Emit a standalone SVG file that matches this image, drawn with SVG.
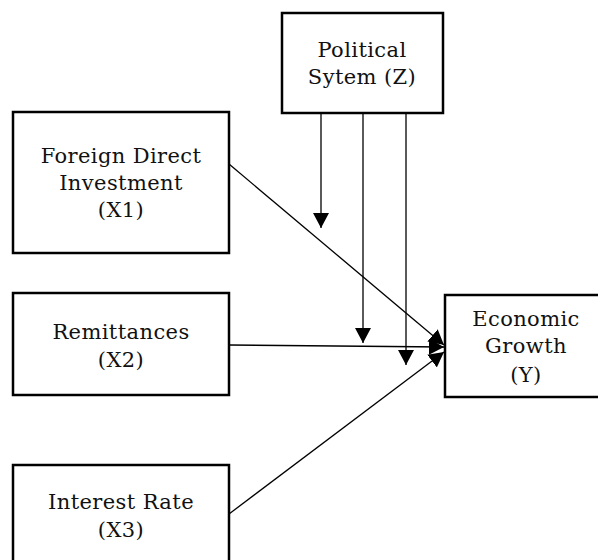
<svg xmlns="http://www.w3.org/2000/svg" width="598" height="560" viewBox="0 0 598 560">
<defs>
<style>
.box{fill:#fff;stroke:#000;stroke-width:2.5}
.lbl{font-family:"DejaVu Serif",serif;font-size:21px;letter-spacing:0.4px;fill:#111;text-anchor:middle}
.ln{stroke:#000;stroke-width:1.3;fill:none}
</style>
<marker id="ah" viewBox="0 0 15 16" refX="15" refY="8" markerWidth="15" markerHeight="16" markerUnits="userSpaceOnUse" orient="auto">
<path d="M0,0 L15,8 L0,16 Z" fill="#000"/>
</marker>
</defs>
<rect width="598" height="560" fill="#fff"/>
<g id="connectors">
<line class="ln" x1="229" y1="164" x2="444" y2="345" marker-end="url(#ah)"/>
<line class="ln" x1="229" y1="345" x2="444" y2="347" marker-end="url(#ah)"/>
<line class="ln" x1="229" y1="514" x2="444" y2="352" marker-end="url(#ah)"/>
<line class="ln" x1="321" y1="113" x2="321" y2="228" marker-end="url(#ah)"/>
<line class="ln" x1="363" y1="113" x2="363" y2="343" marker-end="url(#ah)"/>
<line class="ln" x1="406" y1="113" x2="406" y2="365" marker-end="url(#ah)"/>
</g>
<g id="political">
<rect class="box" x="282" y="13" width="161" height="100"/>
<text class="lbl" x="362" y="57">Political</text>
<text class="lbl" x="362" y="84">Sytem (Z)</text>
</g>
<g id="fdi">
<rect class="box" x="13" y="112" width="216" height="141"/>
<text class="lbl" x="121" y="163">Foreign Direct</text>
<text class="lbl" x="121" y="190">Investment</text>
<text class="lbl" x="121" y="217">(X1)</text>
</g>
<g id="remittances">
<rect class="box" x="13" y="293" width="216" height="102"/>
<text class="lbl" x="121" y="339">Remittances</text>
<text class="lbl" x="121" y="367">(X2)</text>
</g>
<g id="interest">
<rect class="box" x="13" y="465" width="216" height="100"/>
<text class="lbl" x="121" y="509">Interest Rate</text>
<text class="lbl" x="121" y="537">(X3)</text>
</g>
<g id="growth">
<rect class="box" x="445" y="295" width="170" height="102"/>
<text class="lbl" x="526" y="326">Economic</text>
<text class="lbl" x="526" y="353">Growth</text>
<text class="lbl" x="526" y="382">(Y)</text>
</g>
</svg>
